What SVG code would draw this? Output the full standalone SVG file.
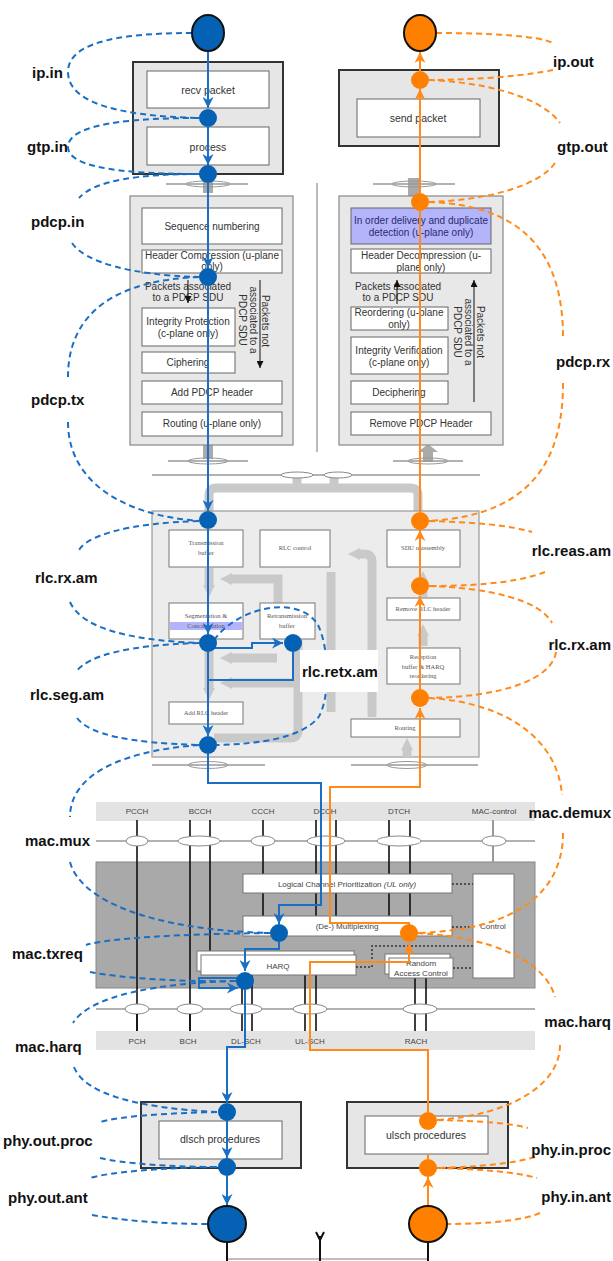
<svg xmlns="http://www.w3.org/2000/svg" width="613" height="1261" viewBox="0 0 613 1261">
<defs>
<style>
.lbl{font-family:"Liberation Sans",Arial,sans-serif;font-weight:bold;font-size:15px;fill:#111}
.lr{text-anchor:end}
.t10{font-family:"Liberation Sans",Arial,sans-serif;font-size:10px;fill:#333;text-anchor:middle}
.t11{font-family:"Liberation Sans",Arial,sans-serif;font-size:10.5px;fill:#333;text-anchor:middle}
.tr{font-family:"Liberation Serif","Times New Roman",serif;font-size:6.5px;fill:#555;text-anchor:middle}
.tm{font-family:"Liberation Sans",Arial,sans-serif;font-size:8px;fill:#444;text-anchor:middle}
.box{fill:#fff;stroke:#666;stroke-width:1}
.rbox{fill:#fff;stroke:#777;stroke-width:1}
.outer{fill:#e6e6e6;stroke:#333;stroke-width:2}
.pd{fill:#e8e8e8;stroke:#888;stroke-width:1.2}
.bl{fill:none;stroke:#1a6fc4;stroke-width:2}
.ol{fill:none;stroke:#ff8a1a;stroke-width:2}
.bd{fill:none;stroke:#1a6fc4;stroke-width:2;stroke-dasharray:6 4}
.od{fill:none;stroke:#ff8a1a;stroke-width:2;stroke-dasharray:6 4}
.bdot{fill:#0561b3}
.odot{fill:#ff8000}
.band{fill:none;stroke:#c9c9c9;stroke-width:9}
.gl{fill:none;stroke:#999;stroke-width:1.3}
.ch{fill:none;stroke:#111;stroke-width:1.6}
.ell{fill:#fff;stroke:#888;stroke-width:1}
.ello{fill:none;stroke:#999;stroke-width:1}
.dot{fill:none;stroke:#333;stroke-width:1.5;stroke-dasharray:2 2}
</style>
<marker id="ab" viewBox="0 0 10 10" refX="10" refY="5" markerWidth="11" markerHeight="11" markerUnits="userSpaceOnUse" orient="auto"><path d="M0,0 L10,5 L0,10 L3,5 z" fill="#1a6fc4"/></marker>
<marker id="ao" viewBox="0 0 10 10" refX="10" refY="5" markerWidth="11" markerHeight="11" markerUnits="userSpaceOnUse" orient="auto"><path d="M0,0 L10,5 L0,10 L3,5 z" fill="#ff8a1a"/></marker>
<marker id="ak" viewBox="0 0 10 10" refX="10" refY="5" markerWidth="7" markerHeight="7" markerUnits="userSpaceOnUse" orient="auto"><path d="M0,0 L10,5 L0,10 z" fill="#111"/></marker>
<marker id="ag" viewBox="0 0 10 10" refX="0" refY="5" markerWidth="12" markerHeight="16" markerUnits="userSpaceOnUse" orient="auto"><path d="M0,0 L10,5 L0,10 z" fill="#c9c9c9"/></marker>
</defs>
<rect width="613" height="1261" fill="#fff"/>

<g id="decor">
  <line x1="317" y1="183" x2="317" y2="452" stroke="#777" stroke-width="1"/>
  <rect x="203" y="178" width="10" height="15" fill="#aaa"/>
  <rect x="408" y="178" width="12" height="18" fill="#aaa"/>
  <rect x="203" y="445" width="10" height="14" fill="#aaa"/>
  <path d="M423,462 V452 h-5 l10,-8 l10,8 h-5 V462 z" fill="#aaa"/>
  <line x1="166" y1="184" x2="248" y2="184" class="gl"/><ellipse cx="208" cy="184" rx="22" ry="3" class="ello"/>
  <line x1="373" y1="184" x2="455" y2="184" class="gl"/><ellipse cx="414" cy="184" rx="22" ry="3" class="ello"/>
  <line x1="168" y1="461" x2="248" y2="461" class="gl"/><ellipse cx="208" cy="461" rx="20" ry="3" class="ello"/>
  <line x1="393" y1="461" x2="463" y2="461" class="gl"/><ellipse cx="428" cy="461" rx="20" ry="3" class="ello"/>
  <path class="band" d="M209,512 V495 Q209,488 216,488 H410 Q418,488 418,495 V512"/>
  <path class="band" d="M297,476 V488 M334,476 V488"/>
  <line x1="152" y1="475" x2="480" y2="475" class="gl"/>
  <ellipse cx="297" cy="475" rx="16" ry="3" class="ell"/>
  <ellipse cx="338" cy="475" rx="14" ry="3" class="ell"/>
</g>

<g id="pdcp-tx">
  <rect x="130" y="196" width="163" height="249" class="pd"/>
  <rect x="142" y="208" width="140" height="36" class="box"/><text x="212" y="230" class="t10">Sequence numbering</text>
  <rect x="142" y="250" width="140" height="23" class="box"/><text x="212" y="259" class="t10">Header Compression (u-plane</text><text x="212" y="270" class="t10">only)</text>
  <text x="188" y="290" class="t10">Packets associated</text><text x="188" y="301" class="t10">to a PDCP SDU</text>
  <line x1="188" y1="280" x2="188" y2="303" stroke="#111" stroke-width="1" marker-end="url(#ak)"/>
  <rect x="142" y="308" width="93" height="38" class="box"/><text x="188" y="325" class="t10">Integrity Protection</text><text x="188" y="337" class="t10">(c-plane only)</text>
  <rect x="142" y="352" width="93" height="21" class="box"/><text x="188" y="366" class="t10">Ciphering</text>
  <rect x="142" y="381" width="140" height="23" class="box"/><text x="212" y="396" class="t10">Add PDCP header</text>
  <rect x="142" y="412" width="140" height="24" class="box"/><text x="212" y="427" class="t10">Routing (u-plane only)</text>
  <text transform="translate(261.5,321) rotate(90)" class="t10">Packets not</text>
  <text transform="translate(249.5,320) rotate(90)" class="t10">associated to a</text>
  <text transform="translate(239,320) rotate(90)" class="t10">PDCP SDU</text>
  <line x1="260" y1="280" x2="260" y2="368" stroke="#111" stroke-width="1" marker-end="url(#ak)"/>
</g>

<g id="pdcp-rx">
  <rect x="339" y="196" width="164" height="249" class="pd"/>
  <rect x="351" y="208" width="140" height="36" fill="#b4b4fa" stroke="#666"/><text x="421" y="224" class="t10" style="fill:#2a2a70">In order delivery and duplicate</text><text x="421" y="236" class="t10" style="fill:#2a2a70">detection (u-plane only)</text>
  <rect x="351" y="249" width="140" height="24" class="box"/><text x="421" y="259" class="t10">Header Decompression (u-</text><text x="421" y="271" class="t10">plane only)</text>
  <text x="398" y="290" class="t10">Packets associated</text><text x="398" y="301" class="t10">to a PDCP SDU</text>
  <line x1="397" y1="304" x2="397" y2="280" stroke="#111" stroke-width="1" marker-end="url(#ak)"/>
  <rect x="351" y="307" width="97" height="23" class="box"/><text x="399" y="316" class="t10">Reordering (u-plane</text><text x="399" y="328" class="t10">only)</text>
  <rect x="351" y="337" width="97" height="37" class="box"/><text x="399" y="354" class="t10">Integrity Verification</text><text x="399" y="366" class="t10">(c-plane only)</text>
  <rect x="351" y="381" width="97" height="23" class="box"/><text x="399" y="396" class="t10">Deciphering</text>
  <rect x="351" y="412" width="140" height="23" class="box"/><text x="421" y="427" class="t10">Remove PDCP Header</text>
  <text transform="translate(476.5,332) rotate(90)" class="t10">Packets not</text>
  <text transform="translate(464.5,332) rotate(90)" class="t10">associated to a</text>
  <text transform="translate(453.5,332) rotate(90)" class="t10">PDCP SDU</text>
  <line x1="474" y1="402" x2="474" y2="280" stroke="#111" stroke-width="1" marker-end="url(#ak)"/>
</g>

<g id="rlc">
  <rect x="152" y="511" width="327" height="246" fill="#ececec" stroke="#999" stroke-width="1.2"/>
  <path class="band" d="M209,568 V585" marker-end="url(#ag)"/>
  <path class="band" d="M278,603 V579 H232" marker-end="url(#ag)"/>
  <path class="band" d="M209,640 V688" marker-end="url(#ag)"/>
  <path class="band" d="M277,658 H232" marker-end="url(#ag)"/>
  <path class="band" d="M298,640 V730 Q298,738 290,738 H214"/>
  <path class="band" d="M297,683 H232" marker-end="url(#ag)"/>
  <path class="band" d="M331,572 V712"/>
  <path class="band" d="M372,717 V562 Q372,554 364,554 H360" marker-end="url(#ag)"/>
  <path class="band" d="M423,597 V583" marker-end="url(#ag)"/>
  <path class="band" d="M423,646 V636" marker-end="url(#ag)"/>
  <path class="band" d="M407,757 V750" marker-end="url(#ag)"/>
  <rect x="169" y="530" width="74" height="37" class="rbox"/><text x="206" y="545" class="tr">Transmission</text><text x="206" y="555" class="tr">buffer</text>
  <rect x="260" y="530" width="70" height="37" class="rbox"/><text x="295" y="550" class="tr">RLC control</text>
  <rect x="169" y="603" width="74" height="36" class="rbox"/><rect x="170" y="622" width="72" height="8" fill="#b4b4fa"/><text x="206" y="618" class="tr">Segmentation &amp;</text><text x="206" y="628" class="tr">Concatenation</text>
  <rect x="260" y="603" width="55" height="36" class="rbox"/><text x="287" y="618" class="tr">Retransmission</text><text x="287" y="628" class="tr">buffer</text>
  <rect x="169" y="702" width="74" height="22" class="rbox"/><text x="206" y="715" class="tr">Add RLC header</text>
  <rect x="387" y="530" width="73" height="37" class="rbox"/><text x="423" y="550" class="tr">SDU reassembly</text>
  <rect x="387" y="598" width="73" height="22" class="rbox"/><text x="423" y="611" class="tr">Remove RLC header</text>
  <rect x="387" y="648" width="73" height="36" class="rbox"/><text x="423" y="659" class="tr">Reception</text><text x="423" y="669" class="tr">buffer &amp; HARQ</text><text x="423" y="678" class="tr">reordering</text>
  <rect x="351" y="719" width="109" height="18" class="rbox"/><text x="405" y="730" class="tr">Routing</text>
  <line x1="152" y1="765" x2="265" y2="765" class="gl"/><ellipse cx="208" cy="765" rx="20" ry="3.5" class="ello"/>
  <line x1="351" y1="765" x2="478" y2="765" class="gl"/><ellipse cx="407" cy="765" rx="20" ry="3.5" class="ello"/>
</g>

<g id="mac">
  <rect x="96" y="802" width="439" height="19" fill="#e3e3e3"/>
  <text x="137" y="814" class="tm">PCCH</text><text x="200" y="814" class="tm">BCCH</text><text x="263" y="814" class="tm">CCCH</text><text x="325" y="814" class="tm">DCCH</text><text x="399" y="814" class="tm">DTCH</text><text x="494" y="814" class="tm">MAC-control</text>
  <line x1="96" y1="841" x2="535" y2="841" class="gl"/>
  <rect x="96" y="862" width="439" height="126" fill="#a9a9a9" stroke="#888"/>
  <line x1="493" y1="820" x2="493" y2="862" stroke="#999" stroke-width="2"/>
  <path class="ch" d="M137,820 V1031 M190,820 V1031 M210,820 V953 M263,820 V916 M316,820 V916 M336,820 V916 M389,820 V916 M410,820 V916 M242,975 V1031 M252,975 V1031 M305,975 V1031 M316,975 V1031 M415,978 V1031 M426,978 V1031"/>
  <ellipse cx="137" cy="841" rx="11" ry="5" class="ell"/><ellipse cx="199" cy="841" rx="21" ry="5" class="ell"/><ellipse cx="263" cy="841" rx="12" ry="5" class="ell"/><ellipse cx="326" cy="841" rx="19" ry="5" class="ell"/><ellipse cx="399" cy="841" rx="22" ry="5" class="ell"/><ellipse cx="494" cy="841" rx="12" ry="5" class="ell"/>
  <rect x="243" y="874" width="209" height="19" class="rbox"/><text x="347" y="887" class="tm">Logical Channel Prioritization <tspan font-style="italic">(UL only)</tspan></text>
  <rect x="243" y="916" width="209" height="20" class="rbox"/><text x="347" y="929" class="tm">(De-) Multiplexing</text>
  <rect x="197" y="951" width="157" height="20" class="rbox"/><rect x="201" y="955" width="155" height="20" class="rbox"/><text x="278" y="969" class="tm">HARQ</text>
  <rect x="385" y="954" width="65" height="20" class="rbox"/><rect x="389" y="958" width="64" height="20" class="rbox"/><text x="421" y="966" class="tm">Random</text><text x="421" y="976" class="tm">Access Control</text>
  <rect x="473" y="874" width="41" height="104" class="rbox"/><text x="493" y="929" class="tm">Control</text>
  <path class="dot" d="M452,884 H473 M452,927 H473 M453,968 H473 M356,967 H372 V946 H473"/>
  <line x1="96" y1="1009" x2="535" y2="1009" class="gl"/>
  <ellipse cx="137" cy="1009" rx="12" ry="5" class="ell"/><ellipse cx="190" cy="1009" rx="13" ry="5" class="ell"/><ellipse cx="246" cy="1009" rx="16" ry="5" class="ell"/><ellipse cx="310" cy="1009" rx="17" ry="5" class="ell"/><ellipse cx="420" cy="1009" rx="17" ry="5" class="ell"/>
  <path class="ch" d="M137,1014 V1031 M190,1014 V1031"/>
  <rect x="96" y="1031" width="439" height="19" fill="#e3e3e3"/>
  <text x="137" y="1044" class="tm">PCH</text><text x="188" y="1044" class="tm">BCH</text><text x="246" y="1044" class="tm">DL-SCH</text><text x="310" y="1044" class="tm">UL-SCH</text><text x="416" y="1044" class="tm">RACH</text>
</g>

<g id="gtp-tx">
  <rect x="133" y="62" width="150" height="112" class="outer"/>
  <rect x="147" y="71" width="122" height="37" class="box"/><text x="208" y="94" class="t11">recv packet</text>
  <rect x="147" y="127" width="122" height="38" class="box"/><text x="208" y="151" class="t11">process</text>
</g>
<g id="gtp-rx">
  <rect x="339" y="70" width="160" height="76" class="outer"/>
  <rect x="357" y="99" width="123" height="38" class="box"/><text x="418" y="122" class="t11">send packet</text>
</g>

<g id="phy-tx">
  <rect x="141" y="1102" width="160" height="66" class="outer"/>
  <rect x="159" y="1121" width="123" height="38" class="box"/><text x="220" y="1143" class="t11">dlsch procedures</text>
</g>
<g id="phy-rx">
  <rect x="347" y="1102" width="161" height="66" class="outer"/>
  <rect x="365" y="1116" width="123" height="38" class="box"/><text x="426" y="1139" class="t11">ulsch procedures</text>
</g>
<g id="antenna">
  <line x1="227" y1="1259" x2="428" y2="1259" stroke="#aaa" stroke-width="1.5"/>
  <path d="M227,1242 V1261 M428,1242 V1261 M320,1236 V1261 M316,1232 L320,1240 L324,1232" stroke="#111" stroke-width="2" fill="none"/>
</g>

<g id="connectors">
  <path class="bl" d="M208,51 V108" marker-end="url(#ab)"/>
  <path class="bl" d="M208,127 V165" marker-end="url(#ab)"/>
  <path class="bl" d="M208,183 V268" marker-end="url(#ab)"/>
  <path class="bl" d="M208,286 V511" marker-end="url(#ab)"/>
  <path class="bl" d="M208,529 V634" marker-end="url(#ab)"/>
  <path class="bl" d="M208,652 V736" marker-end="url(#ab)"/>
  <path class="bl" d="M208,648 H252 V643 H283" marker-end="url(#ab)"/>
  <path class="bl" d="M293,652 V680 H208"/>
  <path class="bl" d="M208,754 V783 H321 V905 H279 V924" marker-end="url(#ab)"/>
  <path class="bl" d="M279,942 V949 H245 V971" marker-end="url(#ab)"/>
  <path class="bl" d="M237,978 H199 V988 H238" marker-end="url(#ab)"/>
  <path class="bl" d="M245,990 V1047 H227 V1103" marker-end="url(#ab)"/>
  <path class="bl" d="M227,1121 V1158" marker-end="url(#ab)"/>
  <path class="bl" d="M227,1176 V1205" marker-end="url(#ab)"/>

  <path class="ol" d="M428,1205 V1177" marker-end="url(#ao)"/>
  <path class="ol" d="M428,1159 V1154"/>
  <path class="ol" d="M428,1112 V1050 H310 V962 H409 V943" marker-end="url(#ao)"/>
  <path class="ol" d="M409,925 V923 H330 V787 H420 V708" marker-end="url(#ao)"/>
  <path class="ol" d="M420,690 V596" marker-end="url(#ao)"/>
  <path class="ol" d="M420,578 V530" marker-end="url(#ao)"/>
  <path class="ol" d="M420,512 V211"/>
  <path class="ol" d="M420,193 V89" marker-end="url(#ao)"/>
  <path class="ol" d="M420,71 V52" marker-end="url(#ao)"/>

  <path class="bd" d="M192,33 C110,33 68,45 68,72 C68,100 110,116 199,118"/>
  <path class="bd" d="M199,118 C110,118 68,128 68,147 C68,165 110,174 199,174"/>
  <path class="bd" d="M199,174 C140,174 95,180 79,198"/>
  <path class="bd" d="M72,243 C85,262 130,275 199,277"/>
  <path class="bd" d="M199,277 C120,280 68,310 68,377"/>
  <path class="bd" d="M68,422 C68,480 120,515 199,521"/>
  <path class="bd" d="M199,521 C130,523 85,535 78,552"/>
  <path class="bd" d="M70,602 C80,625 120,640 199,643"/>
  <path class="bd" d="M199,643 C130,645 88,655 76,672"/>
  <path class="bd" d="M77,718 C90,735 130,743 199,745"/>
  <path class="bd" d="M199,745 C110,752 70,780 70,817"/>
  <path class="bd" d="M70,862 C80,900 150,930 270,933"/>
  <path class="bd" d="M270,933 C180,934 110,938 86,945"/>
  <path class="bd" d="M90,972 C120,978 180,982 236,981"/>
  <path class="bd" d="M236,981 C160,983 90,995 73,1023"/>
  <path class="bd" d="M74,1067 C85,1095 140,1108 217,1112"/>
  <path class="bd" d="M217,1112 C170,1113 120,1116 100,1122"/>
  <path class="bd" d="M100,1158 C120,1163 170,1167 217,1167"/>
  <path class="bd" d="M217,1167 C160,1168 110,1172 90,1178"/>
  <path class="bd" d="M92,1215 C120,1220 160,1224 207,1224"/>
  <path class="bd" d="M214,640 C240,605 300,595 318,625 C330,650 330,700 318,718 C300,738 260,744 217,745"/>

  <path class="od" d="M436,33 C490,33 540,36 553,43"/>
  <path class="od" d="M553,70 C530,75 480,80 429,80"/>
  <path class="od" d="M429,80 C480,82 540,95 560,123"/>
  <path class="od" d="M555,163 C540,185 490,200 429,202"/>
  <path class="od" d="M429,202 C520,205 563,250 563,337"/>
  <path class="od" d="M563,383 C563,450 540,515 429,521"/>
  <path class="od" d="M429,521 C470,522 510,525 532,532"/>
  <path class="od" d="M545,572 C525,580 490,586 429,586"/>
  <path class="od" d="M429,586 C490,588 540,600 552,623"/>
  <path class="od" d="M556,652 C552,680 500,697 429,698"/>
  <path class="od" d="M429,698 C500,702 557,735 562,795"/>
  <path class="od" d="M563,833 C563,890 520,930 417,933"/>
  <path class="od" d="M417,933 C490,937 545,960 555,997"/>
  <path class="od" d="M560,1045 C560,1085 510,1115 437,1120"/>
  <path class="od" d="M437,1120 C480,1121 510,1123 528,1128"/>
  <path class="od" d="M535,1157 C515,1163 480,1167 437,1168"/>
  <path class="od" d="M437,1168 C480,1169 515,1172 537,1178"/>
  <path class="od" d="M540,1213 C525,1220 490,1224 447,1224"/>
</g>

<g id="ip-in"><ellipse cx="208" cy="33" rx="16" ry="18" fill="#0561b3" stroke="#111" stroke-width="2"/></g>
<g id="ip-out"><ellipse cx="420" cy="33" rx="16" ry="18" fill="#ff8000" stroke="#111" stroke-width="2"/></g>
<g id="ant-out"><ellipse cx="227" cy="1224" rx="19" ry="18" fill="#0561b3" stroke="#111" stroke-width="2"/></g>
<g id="ant-in"><ellipse cx="428" cy="1224" rx="19" ry="18" fill="#ff8000" stroke="#111" stroke-width="2"/></g>
<g id="taps">
  <circle cx="208" cy="118" r="9" class="bdot"/><circle cx="208" cy="174" r="9" class="bdot"/><circle cx="208" cy="277" r="9" class="bdot"/>
  <circle cx="208" cy="520" r="9" class="bdot"/><circle cx="208" cy="643" r="9" class="bdot"/><circle cx="293" cy="643" r="9" class="bdot"/><circle cx="208" cy="745" r="9" class="bdot"/>
  <circle cx="279" cy="933" r="9" class="bdot"/><circle cx="245" cy="981" r="9" class="bdot"/>
  <circle cx="227" cy="1112" r="9" class="bdot"/><circle cx="227" cy="1167" r="9" class="bdot"/>
  <circle cx="420" cy="80" r="9" class="odot"/><circle cx="420" cy="202" r="9" class="odot"/>
  <circle cx="420" cy="521" r="9" class="odot"/><circle cx="420" cy="586" r="9" class="odot"/><circle cx="420" cy="698" r="9" class="odot"/>
  <circle cx="409" cy="933" r="9" class="odot"/>
  <circle cx="428" cy="1121" r="9" class="odot"/><circle cx="428" cy="1168" r="9" class="odot"/>
</g>

<g id="labels">
  <text x="32" y="78" class="lbl">ip.in</text>
  <text x="27" y="152" class="lbl">gtp.in</text>
  <text x="31" y="227" class="lbl">pdcp.in</text>
  <text x="31" y="405" class="lbl">pdcp.tx</text>
  <text x="35" y="583" class="lbl">rlc.rx.am</text>
  <text x="30" y="700" class="lbl">rlc.seg.am</text>
  <text x="25" y="846" class="lbl">mac.mux</text>
  <text x="12" y="959" class="lbl">mac.txreq</text>
  <text x="15" y="1052" class="lbl">mac.harq</text>
  <text x="3" y="1146" class="lbl">phy.out.proc</text>
  <text x="8" y="1203" class="lbl">phy.out.ant</text>
  <rect x="300" y="650" width="78" height="42" fill="#fff"/>
  <text x="302" y="677" class="lbl">rlc.retx.am</text>
  <text x="553" y="67" class="lbl">ip.out</text>
  <text x="557" y="152" class="lbl">gtp.out</text>
  <text x="556" y="367" class="lbl">pdcp.rx</text>
  <text x="611" y="556" class="lbl lr">rlc.reas.am</text>
  <text x="611" y="650" class="lbl lr">rlc.rx.am</text>
  <text x="611" y="818" class="lbl lr">mac.demux</text>
  <text x="611" y="1027" class="lbl lr">mac.harq</text>
  <text x="611" y="1155" class="lbl lr">phy.in.proc</text>
  <text x="611" y="1202" class="lbl lr">phy.in.ant</text>
</g>
</svg>
